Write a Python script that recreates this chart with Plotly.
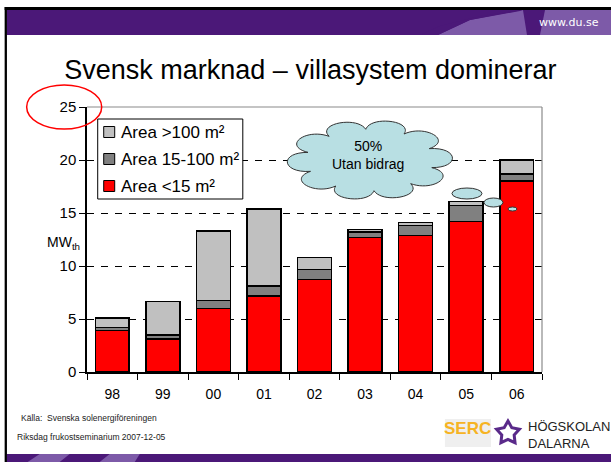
import math
import plotly.graph_objects as go

years = ["98", "99", "00", "01", "02", "03", "04", "05", "06"]
area_small = [3.9, 3.1, 6.0, 7.15, 8.75, 12.7, 12.9, 14.2, 18.0]     # <15 m²
area_mid = [0.3, 0.4, 0.75, 0.95, 0.9, 0.5, 0.9, 1.5, 0.7]          # 15-100 m²
area_large = [0.9, 3.15, 6.55, 7.3, 1.15, 0.25, 0.3, 0.4, 1.3]      # >100 m²
series_names = ["Area <15 m²", "Area 15-100 m²", "Area >100 m²"]
series_colors = ["#ff0000", "#808080", "#c0c0c0"]
y_ticks = [0, 5, 10, 15, 20, 25]

W, H = 611, 462
L, R, T, B = 87.3, 542.0, 107.0, 372.0


def px(x):
    return (x - L) / (R - L)


def py(y):
    return (B - y) / (B - T)


fig = go.Figure()
for i, (vals, name, col) in enumerate(zip([area_small, area_mid, area_large], series_names, series_colors)):
    fig.add_trace(go.Bar(
        x=years, y=vals, name=name, showlegend=False,
        marker=dict(color=col, line=dict(color="black", width=1.5)),
    ))

shapes = []
annotations = []
FONT = "Liberation Sans, Arial, sans-serif"

# ---- slide decoration ----
purple = "#4b1878"
light_purple = "#7d5aa8"
shapes.append(dict(type="rect", xref="paper", yref="paper", x0=px(5), x1=px(611), y0=py(10), y1=py(7),
                   fillcolor="black", line=dict(width=0), layer="above"))
shapes.append(dict(type="rect", xref="paper", yref="paper", x0=px(7), x1=px(611), y0=py(35), y1=py(10),
                   fillcolor=purple, line=dict(width=0), layer="above"))


def poly(points, color):
    d = "M " + " L ".join(f"{px(a):.5f},{py(b):.5f}" for a, b in points) + " Z"
    return dict(type="path", xref="paper", yref="paper", path=d, fillcolor=color,
                line=dict(width=0), layer="above")


shapes.append(poly([(438, 35), (470, 20), (520, 11), (523, 10), (527, 35)], light_purple))
shapes.append(poly([(545, 10), (611, 10), (611, 35), (540, 35)], light_purple))
shapes.append(poly([(420, 35), (440, 26), (480, 16), (522, 10), (470, 20), (438, 35)], purple))
shapes.append(dict(type="rect", xref="paper", yref="paper", x0=px(7), x1=px(611), y0=py(462), y1=py(454),
                   fillcolor=purple, line=dict(width=0), layer="above"))
shapes.append(poly([(28, 462), (40, 454), (70, 454), (60, 462)], light_purple))
shapes.append(poly([(100, 462), (110, 454), (140, 454), (135, 462)], light_purple))
shapes.append(dict(type="rect", xref="paper", yref="paper", x0=px(5), x1=px(7.3), y0=py(462), y1=py(7),
                   fillcolor="black", line=dict(width=0), layer="above"))

annotations.append(dict(text="www.du.se", xref="paper", yref="paper", x=px(601), y=py(22),
                        xanchor="right", yanchor="middle", showarrow=False,
                        font=dict(family="DejaVu Sans", size=11, color="white")))

# plot frame top/right (gray)
shapes.append(dict(type="line", xref="paper", yref="paper", x0=0, x1=1, y0=1, y1=1,
                   line=dict(color="#8a8a8a", width=1.2)))
shapes.append(dict(type="line", xref="paper", yref="paper", x0=1, x1=1, y0=0, y1=1,
                   line=dict(color="#8a8a8a", width=1.2)))

# red ellipse around 25
shapes.append(dict(type="circle", xref="paper", yref="paper", x0=px(27), x1=px(102), y0=py(129), y1=py(85),
                   line=dict(color="#ff0000", width=1.5), layer="above"))

# ---- manual legend ----
shapes.append(dict(type="rect", xref="paper", yref="paper", x0=px(98), x1=px(243), y0=py(199), y1=py(119),
                   fillcolor="white", line=dict(color="black", width=1), layer="above"))
legend_rows = [(2, 132), (1, 159), (0, 186)]
for idx, yy in legend_rows:
    shapes.append(dict(type="rect", xref="paper", yref="paper", x0=px(104), x1=px(115),
                       y0=py(yy + 5.5), y1=py(yy - 5.5), fillcolor=series_colors[idx],
                       line=dict(color="black", width=1), layer="above"))
    annotations.append(dict(text=series_names[idx], xref="paper", yref="paper", x=px(119), y=py(yy),
                            xanchor="left", yanchor="middle", showarrow=False,
                            font=dict(family=FONT, size=17, color="black")))

# cloud
cx, cy, rx, ry = 370.0, 160.0, 83.0, 40.0
n = 10
rx0, ry0 = rx / 1.3, ry / 1.3
k = 1.45
d = ""
for i in range(n):
    a0 = 2 * math.pi * i / n + 0.25
    a1 = 2 * math.pi * (i + 1) / n + 0.25
    p0 = (cx + rx0 * math.cos(a0), cy + ry0 * math.sin(a0))
    p1 = (cx + rx0 * math.cos(a1), cy + ry0 * math.sin(a1))
    c1a = a0 + 0.12 * (a1 - a0)
    c2a = a1 - 0.12 * (a1 - a0)
    c1 = (cx + k * rx0 * math.cos(c1a), cy + k * ry0 * math.sin(c1a))
    c2 = (cx + k * rx0 * math.cos(c2a), cy + k * ry0 * math.sin(c2a))
    if i == 0:
        d += f"M {px(p0[0]):.5f},{py(p0[1]):.5f} "
    d += (f"C {px(c1[0]):.5f},{py(c1[1]):.5f} {px(c2[0]):.5f},{py(c2[1]):.5f} "
          f"{px(p1[0]):.5f},{py(p1[1]):.5f} ")
d += "Z"
cloud_fill = "#b8dfe3"
shapes.append(dict(type="path", xref="paper", yref="paper", path=d, fillcolor=cloud_fill,
                   line=dict(color="#333333", width=1), layer="above"))
for (x0, x1, y0, y1) in [(452, 482, 188, 199), (484, 503, 198, 207), (508, 517, 207, 211)]:
    shapes.append(dict(type="circle", xref="paper", yref="paper", x0=px(x0), x1=px(x1),
                       y0=py(y1), y1=py(y0), fillcolor=cloud_fill,
                       line=dict(color="#333333", width=1), layer="above"))
annotations.append(dict(text="50%<br>Utan bidrag", xref="paper", yref="paper", x=px(368), y=py(155),
                        xanchor="center", yanchor="middle", showarrow=False, align="center",
                        font=dict(family=FONT, size=14, color="black")))

# axis label
annotations.append(dict(text="MW<sub>th</sub>", xref="paper", yref="paper", x=px(64), y=py(243),
                        xanchor="center", yanchor="middle", showarrow=False,
                        font=dict(family=FONT, size=14, color="black")))

# footer
annotations.append(dict(text="Källa:  Svenska solenergiföreningen", xref="paper", yref="paper",
                        x=px(19), y=py(418), xanchor="left", yanchor="middle", showarrow=False,
                        font=dict(family=FONT, size=8.5, color="#222")))
annotations.append(dict(text="Riksdag frukostseminarium 2007-12-05", xref="paper", yref="paper",
                        x=px(15), y=py(437), xanchor="left", yanchor="middle", showarrow=False,
                        font=dict(family=FONT, size=8.5, color="#222")))
# logos
shapes.append(dict(type="rect", xref="paper", yref="paper", x0=px(445), x1=px(491), y0=py(447), y1=py(419),
                   fillcolor="#efefef", line=dict(width=0), layer="above"))
annotations.append(dict(text="<b>SERC</b>", xref="paper", yref="paper", x=px(468), y=py(428),
                        xanchor="center", yanchor="middle", showarrow=False,
                        font=dict(family="Liberation Sans Narrow, Liberation Sans, Arial", size=17,
                                  color="#f6b323")))
star = []
scx, scy = 508, 433
for i in range(10):
    ang = -math.pi / 2 + i * math.pi / 5
    r = 12 if i % 2 == 0 else 6.5
    star.append((scx + r * math.cos(ang), scy + r * math.sin(ang)))
sd = "M " + " L ".join(f"{px(a):.5f},{py(b):.5f}" for a, b in star) + " Z"
shapes.append(dict(type="path", xref="paper", yref="paper", path=sd, fillcolor="rgba(0,0,0,0)",
                   line=dict(color="#5a2a8a", width=3), layer="above"))
annotations.append(dict(text="HÖGSKOLAN<br>DALARNA", xref="paper", yref="paper", x=px(526), y=py(435),
                        xanchor="left", yanchor="middle", showarrow=False, align="left",
                        font=dict(family=FONT, size=13, color="#222")))

fig.update_layout(
    width=W, height=H,
    margin=dict(l=L, r=W - R, t=T, b=H - B, pad=0),
    paper_bgcolor="white", plot_bgcolor="rgba(0,0,0,0)",
    barmode="stack", bargap=0.33,
    font=dict(family=FONT, color="black"),
    title=dict(text="Svensk marknad – villasystem dominerar", x=0.508, xanchor="center",
               xref="container", yref="container", y=1 - 70 / H, yanchor="middle",
               font=dict(family=FONT, size=27, color="black")),
    showlegend=False,
    xaxis=dict(type="category", showline=True, linecolor="black", linewidth=1.5,
               ticks="outside", tickson="boundaries", ticklen=6, tickcolor="black",
               tickfont=dict(size=14), ticklabelstandoff=8, showgrid=False),
    yaxis=dict(range=[0, 25], tickvals=y_ticks, showline=True, linecolor="black", linewidth=1.5,
               ticks="outside", ticklen=6, tickcolor="black", tickfont=dict(size=15),
               showgrid=True, gridcolor="black", gridwidth=1, griddash="7px,7px",
               zeroline=False),
    shapes=shapes, annotations=annotations,
)

fig.write_html("out.html")
